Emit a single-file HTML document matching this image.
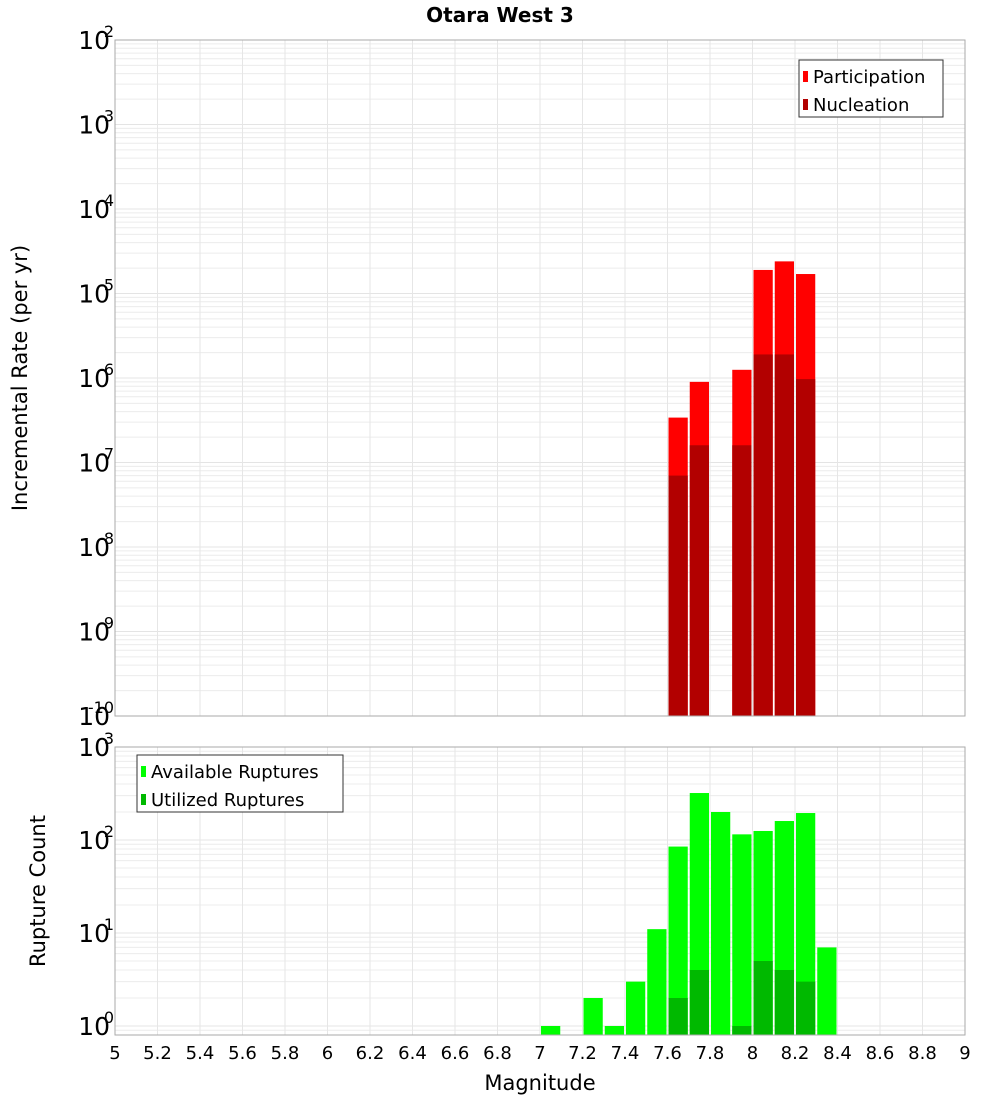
<!DOCTYPE html>
<html><head><meta charset="utf-8"><style>
body{margin:0;background:#fff;font-family:"Liberation Sans","DejaVu Sans",sans-serif}
text{font-family:"DejaVu Sans","Liberation Sans",sans-serif}
</style></head><body>
<svg id="c" width="1000" height="1100" xmlns="http://www.w3.org/2000/svg">
<text x="500" y="22" text-anchor="middle" font-size="20" font-weight="bold">Otara West 3</text>
<text transform="translate(27,378) rotate(-90)" text-anchor="middle" font-size="21">Incremental Rate (per yr)</text>
<text transform="translate(45,891) rotate(-90)" text-anchor="middle" font-size="21">Rupture Count</text>
<text x="540" y="1090" text-anchor="middle" font-size="21">Magnitude</text>
<g id="g"></g>
</svg>
<script>
const mags=[7.65,7.75,7.95,8.05,8.15,8.25];
const participation=[3.4e-7,9e-7,1.25e-6,1.9e-5,2.4e-5,1.7e-5];
const nucleation=[7e-8,1.6e-7,1.6e-7,1.9e-6,1.9e-6,9.7e-7];
const availMags=[7.05,7.25,7.35,7.45,7.55,7.65,7.75,7.85,7.95,8.05,8.15,8.25,8.35];
const available=[1,2,1,3,11,85,320,200,115,125,160,195,7];
const utilMags=[7.65,7.75,7.95,8.05,8.15,8.25];
const utilized=[2,4,1,5,4,3];
const xTicks=[5,5.2,5.4,5.6,5.8,6,6.2,6.4,6.6,6.8,7,7.2,7.4,7.6,7.8,8,8.2,8.4,8.6,8.8,9];
const topExp=[-2,-3,-4,-5,-6,-7,-8,-9,-10];
const botExp=[3,2,1,0];

const NS="http://www.w3.org/2000/svg",g=document.getElementById('g');
const X0=115,X1=965;
const x=m=>X0+(m-5)/4*(X1-X0);
const T0=40,T1=716,yT=v=>T0+(-2-Math.log10(v))*(T1-T0)/8;
const B0=747,B1=1035,yB=v=>B0+(3-Math.log10(v))*93;
function el(t,a,p){const e=document.createElementNS(NS,t);for(const k in a)e.setAttribute(k,a[k]);(p||g).appendChild(e);return e;}
function panel(y0,y1,yf,e0,e1,name){
  el('rect',{x:X0,y:y0,width:X1-X0,height:y1-y0,fill:'#fff'});
  for(let e=e1;e<e0;e++)for(let k=1;k<10;k++){const yy=yf(k*Math.pow(10,e));if(yy>=y0&&yy<=y1){
    const l=el('line',{x1:X0,x2:X1,y1:yy,y2:yy,stroke:k==1?'#e4e4e4':'#ececec','stroke-width':1});
    
    }}
  xTicks.forEach(t=>{const l=el('line',{x1:x(t),x2:x(t),y1:y0,y2:y1,stroke:'#e6e6e6'});
    
    });
}
panel(T0,T1,yT,-2,-10,'top');
panel(B0,B1,yB,3,-1,'bottom');
const bw=(X1-X0)/40;
function bar(m,v,yf,yb,fill,name){const yy=yf(v);const r=el('rect',{x:x(m)-bw/2+1,y:yy,width:bw-2,height:yb-yy,fill:fill});
  
  }
mags.forEach((m,i)=>bar(m,participation[i],yT,T1,'#ff0000','participation-bar'));
mags.forEach((m,i)=>bar(m,nucleation[i],yT,T1,'#b20000','nucleation-bar'));
availMags.forEach((m,i)=>bar(m,available[i],yB,B1,'#00ff00','available-bar'));
utilMags.forEach((m,i)=>bar(m,utilized[i],yB,B1,'#00b900','utilized-bar'));
el('rect',{x:X0,y:T0,width:X1-X0,height:T1-T0,fill:'none',stroke:'#aaa'});
el('rect',{x:X0,y:B0,width:X1-X0,height:B1-B0,fill:'none',stroke:'#aaa'});
function plab(yy,e,name){const t=el('text',{x:110,y:yy+9,'text-anchor':'end','font-size':25});t.textContent='10';
  
  
  const s=el('text',{x:114,y:yy-3,'text-anchor':'end','font-size':16});s.textContent=String(e);}
topExp.forEach(e=>plab(yT(Math.pow(10,e)),e,'top-y-tick-label'));
botExp.forEach(e=>plab(yB(Math.pow(10,e)),e,'bottom-y-tick-label'));
xTicks.forEach(t=>{const l=el('text',{x:x(t),y:1059,'text-anchor':'middle','font-size':18});l.textContent=String(t);
  
  });
function legend(lx,ly,w,items,name){const gr=el('g',{});
  el('rect',{x:lx,y:ly,width:w,height:57,fill:'#fff',stroke:'#333'},gr);
  items.forEach((it,i)=>{el('rect',{x:lx+4,y:ly+11+i*28,width:5,height:11,fill:it[1]},gr);
    const t=el('text',{x:lx+14,y:ly+23+i*28,'font-size':18},gr);t.textContent=it[0];});}
legend(799,60,144,[['Participation','#ff0000'],['Nucleation','#b20000']],'top-legend');
legend(137,755,206,[['Available Ruptures','#00ff00'],['Utilized Ruptures','#00b900']],'bottom-legend');
</script>
</body></html>
